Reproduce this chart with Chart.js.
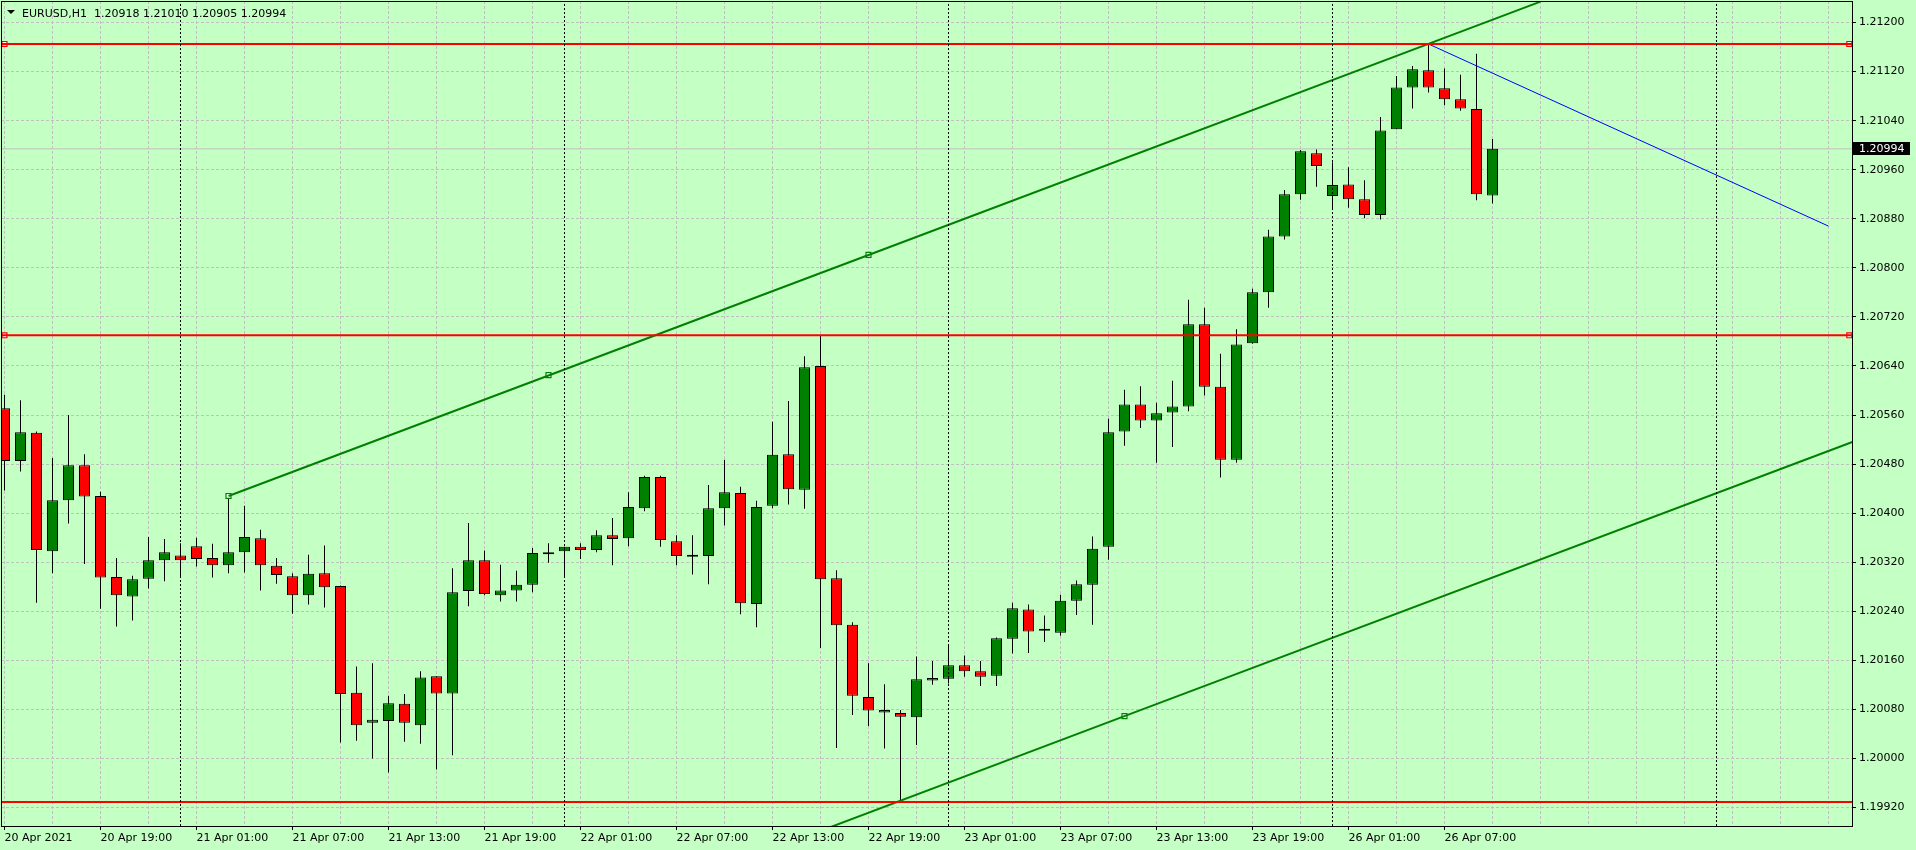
<!DOCTYPE html>
<html>
<head>
<meta charset="utf-8">
<script src="https://cdn.jsdelivr.net/npm/chart.js@4.4.1/dist/chart.umd.min.js"></script>
<style>
  html, body { margin: 0; padding: 0; background: #c4ffc4; overflow: hidden; }
</style>
</head>
<body>
<canvas id="chart" width="1916" height="850"></canvas>
<script>
// EURUSD H1, 20 Apr 2021 13:00 .. 26 Apr 2021 10:00 (one entry per hour bar)
const opens = [
  1.20571, 1.20485, 1.20531, 1.20338, 1.20421, 1.20478, 1.20428, 1.20296, 1.20264, 1.20293,
  1.20323, 1.20331, 1.20346, 1.20327, 1.20315, 1.20336, 1.20359, 1.20314, 1.20297, 1.20266,
  1.20302, 1.20281, 1.20107, 1.20058, 1.20061, 1.20089, 1.20054, 1.20134, 1.20106, 1.20273,
  1.20323, 1.20266, 1.20274, 1.20283, 1.20333, 1.20338, 1.20345, 1.20340, 1.20364, 1.20359,
  1.20408, 1.20459, 1.20354, 1.20329, 1.20330, 1.20408, 1.20433, 1.20252, 1.20412, 1.20496,
  1.20438, 1.20640, 1.20294, 1.20218, 1.20100, 1.20079, 1.20074, 1.20067, 1.20127, 1.20130,
  1.20152, 1.20142, 1.20135, 1.20195, 1.20243, 1.20208, 1.20205, 1.20257, 1.20283, 1.20345,
  1.20533, 1.20577, 1.20551, 1.20564, 1.20574, 1.20708, 1.20606, 1.20487, 1.20677, 1.20760,
  1.20851, 1.20920, 1.20987, 1.20917, 1.20936, 1.20912, 1.20886, 1.21026, 1.21094, 1.21122,
  1.21093, 1.21075, 1.21059, 1.20918
]
const highs = [
  1.20593, 1.20584, 1.20533, 1.20490, 1.20560, 1.20496, 1.20435, 1.20327, 1.20298, 1.20361,
  1.20358, 1.20351, 1.20360, 1.20350, 1.20428, 1.20412, 1.20373, 1.20327, 1.20302, 1.20332,
  1.20347, 1.20282, 1.20150, 1.20155, 1.20102, 1.20105, 1.20142, 1.20134, 1.20310, 1.20384,
  1.20339, 1.20316, 1.20306, 1.20343, 1.20351, 1.20345, 1.20351, 1.20372, 1.20392, 1.20434,
  1.20461, 1.20461, 1.20364, 1.20364, 1.20446, 1.20487, 1.20443, 1.20420, 1.20549, 1.20583,
  1.20656, 1.20690, 1.20307, 1.20222, 1.20155, 1.20121, 1.20079, 1.20166, 1.20159, 1.20185,
  1.20168, 1.20159, 1.20197, 1.20254, 1.20251, 1.20233, 1.20267, 1.20290, 1.20362, 1.20554,
  1.20601, 1.20607, 1.20580, 1.20616, 1.20748, 1.20735, 1.20660, 1.20700, 1.20766, 1.20862,
  1.20927, 1.20992, 1.20993, 1.20972, 1.20964, 1.20943, 1.21046, 1.21113, 1.21129, 1.21165,
  1.21125, 1.21115, 1.21149, 1.21010
]
const lows = [
  1.20437, 1.20468, 1.20254, 1.20302, 1.20383, 1.20317, 1.20244, 1.20215, 1.20225, 1.20277,
  1.20289, 1.20297, 1.20313, 1.20295, 1.20302, 1.20303, 1.20274, 1.20285, 1.20236, 1.20251,
  1.20246, 1.20026, 1.20029, 1.20000, 1.19977, 1.20027, 1.20024, 1.19982, 1.20005, 1.20248,
  1.20266, 1.20256, 1.20256, 1.20271, 1.20319, 1.20297, 1.20325, 1.20336, 1.20315, 1.20346,
  1.20403, 1.20345, 1.20315, 1.20300, 1.20284, 1.20380, 1.20235, 1.20214, 1.20408, 1.20414,
  1.20407, 1.20180, 1.20017, 1.20071, 1.20053, 1.20016, 1.19929, 1.20022, 1.20120, 1.20122,
  1.20133, 1.20118, 1.20118, 1.20171, 1.20172, 1.20190, 1.20200, 1.20234, 1.20218, 1.20324,
  1.20510, 1.20539, 1.20482, 1.20508, 1.20566, 1.20592, 1.20458, 1.20482, 1.20676, 1.20735,
  1.20846, 1.20911, 1.20932, 1.20896, 1.20898, 1.20881, 1.20879, 1.21026, 1.21060, 1.21086,
  1.21065, 1.21056, 1.20910, 1.20905
]
const closes = [
  1.20485, 1.20532, 1.20340, 1.20421, 1.20478, 1.20427, 1.20295, 1.20266, 1.20292, 1.20323,
  1.20336, 1.20323, 1.20325, 1.20315, 1.20336, 1.20361, 1.20315, 1.20299, 1.20266, 1.20301,
  1.20279, 1.20105, 1.20054, 1.20063, 1.20090, 1.20058, 1.20132, 1.20106, 1.20271, 1.20323,
  1.20268, 1.20274, 1.20283, 1.20335, 1.20336, 1.20345, 1.20340, 1.20364, 1.20358, 1.20410,
  1.20459, 1.20356, 1.20330, 1.20329, 1.20408, 1.20434, 1.20253, 1.20410, 1.20495, 1.20439,
  1.20638, 1.20292, 1.20217, 1.20102, 1.20078, 1.20075, 1.20068, 1.20129, 1.20131, 1.20152,
  1.20142, 1.20133, 1.20196, 1.20245, 1.20207, 1.20208, 1.20257, 1.20284, 1.20342, 1.20532,
  1.20577, 1.20551, 1.20563, 1.20574, 1.20708, 1.20606, 1.20487, 1.20675, 1.20760, 1.20851,
  1.20920, 1.20990, 1.20966, 1.20935, 1.20912, 1.20886, 1.21024, 1.21094, 1.21124, 1.21094,
  1.21075, 1.21060, 1.20920, 1.20994
]

// bottom labels, one every 6 bars starting at bar 0
const timeLabels = [
  '20 Apr 2021', '20 Apr 19:00', '21 Apr 01:00', '21 Apr 07:00', '21 Apr 13:00', '21 Apr 19:00',
  '22 Apr 01:00', '22 Apr 07:00', '22 Apr 13:00', '22 Apr 19:00', '23 Apr 01:00', '23 Apr 07:00',
  '23 Apr 13:00', '23 Apr 19:00', '26 Apr 01:00', '26 Apr 07:00'
]
const priceTicks = [
  1.1992, 1.2000, 1.2008, 1.2016, 1.2024, 1.2032, 1.2040, 1.2048, 1.2056,
  1.2064, 1.2072, 1.2080, 1.2088, 1.2096, 1.2104, 1.2112, 1.2120
]

// drawn objects
const hLinePrices = [1.21165, 1.20690, 1.19929]
const daySeparators = [11, 35, 59, 83, 107]
const upperX = [14, 54, 96]
const upperY = [1.20428, 1.20821, 1.21234]
const lowerX = [50, 70, 115.5]
const lowerY = [1.19872, 1.20069, 1.20516]
const blueX = [89, 114]
const blueY = [1.21165, 1.20868]
const trendAnchorsX = [14, 34, 54, 70]
const trendAnchorsY = [1.20428, 1.20625, 1.20821, 1.20069]

const bid = closes[closes.length - 1]
const xMin = -0.21875, xMax = 115.46875
const yMin = 1.198898, yMax = 1.212351

const FONT = { family: 'DejaVu Sans', size: 11 }
const GRID = '#c0c0c0'

const gridIdx = []
for (let i = 0; i <= 114; i += 3) gridIdx.push(i)

function timeLabel(v) {
  if (v % 6 !== 0) return ''
  return timeLabels[v / 6] || ''
}

function lineSet(xs, ys, color, width, dash, order) {
  return {
    type: 'line',
    data: xs.map((x, i) => ({ x: x, y: ys[i] })),
    borderColor: color,
    borderWidth: width,
    borderDash: dash || [],
    pointRadius: 0,
    fill: false,
    tension: 0,
    order: order || 0
  }
}

function markerSet(xs, ys, color) {
  return {
    type: 'scatter',
    data: xs.map((x, i) => ({ x: x, y: ys[i] })),
    pointStyle: 'rect',
    pointRadius: 3.5,
    borderWidth: 1.2,
    borderColor: color,
    backgroundColor: '#ffffff',
    order: 0
  }
}

const datasets = []

// candles: wicks under bodies
datasets.push({
  type: 'bar',
  data: lows.map((l, i) => ({ x: i, y: [l, highs[i]] })),
  backgroundColor: '#000000',
  borderWidth: 0,
  barThickness: 1,
  grouped: false,
  inflateAmount: 0,
  order: 6
})
datasets.push({
  type: 'bar',
  data: opens.map((o, i) => ({ x: i, y: [o, closes[i]] })),
  backgroundColor: closes.map((c, i) => c >= opens[i] ? '#008000' : '#ff0000'),
  borderColor: '#000000',
  borderWidth: 1,
  borderSkipped: false,
  barThickness: 11,
  minBarLength: 2,
  grouped: false,
  inflateAmount: 0,
  order: 5
})

// bid line behind candles
datasets.push(lineSet([xMin, xMax], [bid, bid], '#c0c0c0', 1, [], 7))

daySeparators.forEach(d => datasets.push(lineSet([d, d], [yMin, yMax], '#000000', 1, [2, 2])))
hLinePrices.forEach(p => datasets.push(lineSet([xMin, xMax], [p, p], '#ff0000', 2)))
datasets.push(markerSet([0, 115.3, 0, 115.3], [hLinePrices[0], hLinePrices[0], hLinePrices[1], hLinePrices[1]], '#ff0000'))

datasets.push(lineSet(upperX, upperY, '#008000', 2))
datasets.push(lineSet(lowerX, lowerY, '#008000', 2))
datasets.push(lineSet(blueX, blueY, '#0000ff', 1))
datasets.push(markerSet(trendAnchorsX, trendAnchorsY, '#008000'))

const mt4Frame = {
  id: 'mt4Frame',
  beforeDraw(chart) {
    const c = chart.ctx
    c.save()
    c.fillStyle = '#c4ffc4'
    c.fillRect(0, 0, chart.width, chart.height)
    c.restore()
  },
  afterDraw(chart) {
    const c = chart.ctx
    const a = chart.chartArea
    c.save()
    c.strokeStyle = '#000000'
    c.lineWidth = 1
    c.strokeRect(a.left + 0.5, a.top + 0.5, a.right - a.left, a.bottom - a.top)

    // symbol header
    c.fillStyle = '#000000'
    c.beginPath()
    c.moveTo(7, 10)
    c.lineTo(15, 10)
    c.lineTo(11, 14)
    c.closePath()
    c.fill()
    c.font = '11px "DejaVu Sans"'
    c.textBaseline = 'alphabetic'
    c.textAlign = 'left'
    c.fillText('EURUSD,H1  ' + [opens, highs, lows, closes].map(s => s[s.length - 1].toFixed(5)).join(' '), 22, 17)

    // current price tag on the price axis
    const y = chart.scales.y.getPixelForValue(bid)
    c.fillStyle = '#000000'
    c.fillRect(a.right + 1, Math.round(y) - 7, 57, 13)
    c.fillStyle = '#ffffff'
    c.textBaseline = 'middle'
    c.fillText(bid.toFixed(5), a.right + 7, Math.round(y))
    c.restore()
  }
}

new Chart(document.getElementById('chart'), {
  type: 'bar',
  data: { datasets: datasets },
  options: {
    responsive: false,
    animation: false,
    devicePixelRatio: 1,
    layout: { autoPadding: false, padding: { left: 1, top: 1, right: 0, bottom: 0 } },
    plugins: { legend: { display: false }, tooltip: { enabled: false } },
    scales: {
      x: {
        type: 'linear',
        position: 'bottom',
        offset: false,
        min: xMin,
        max: xMax,
        afterBuildTicks: s => { s.ticks = gridIdx.map(v => ({ value: v })) },
        afterFit: s => { s.height = 24; s.paddingLeft = 0; s.paddingRight = 0 },
        grid: {
          offset: false,
          color: GRID,
          lineWidth: 1,
          tickLength: 4,
          tickColor: ctx => (ctx.tick && timeLabel(ctx.tick.value)) ? '#000000' : 'rgba(0,0,0,0)'
        },
        border: { display: false, dash: [3, 2] },
        ticks: {
          autoSkip: false,
          maxRotation: 0,
          minRotation: 0,
          align: 'start',
          padding: 2,
          color: '#000000',
          font: FONT,
          callback: v => timeLabel(v)
        }
      },
      y: {
        type: 'linear',
        position: 'right',
        min: yMin,
        max: yMax,
        afterBuildTicks: s => { s.ticks = priceTicks.map(v => ({ value: v })) },
        afterFit: s => { s.width = 64; s.paddingTop = 0; s.paddingBottom = 0 },
        grid: { color: GRID, lineWidth: 1, tickLength: 4, tickColor: '#000000' },
        border: { display: false, dash: [3, 2] },
        ticks: {
          autoSkip: false,
          padding: 3,
          color: '#000000',
          font: FONT,
          callback: v => v.toFixed(5)
        }
      }
    }
  },
  plugins: [mt4Frame]
})
</script>
</body>
</html>
